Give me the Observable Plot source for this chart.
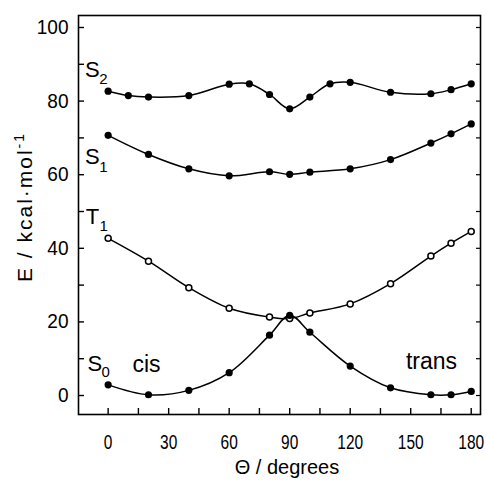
<!DOCTYPE html>
<html>
<head>
<meta charset="utf-8">
<script src="https://cdn.jsdelivr.net/npm/d3@7"></script>
<script src="https://cdn.jsdelivr.net/npm/@observablehq/plot@0.6"></script>
<style>
  html, body { margin: 0; padding: 0; background: #fff; }
  #chart svg { display: block; }
</style>
</head>
<body>
<div id="chart"></div>
<script>
// Torsion angle (degrees)
const angleS2 = [0, 10, 20, 40, 60, 70, 80, 90, 100, 110, 120, 140, 160, 170, 180];
const energyS2 = [82.7, 81.5, 81.1, 81.5, 84.6, 84.7, 81.8, 77.9, 81.1, 84.7, 85.1, 82.4, 82.0, 83.1, 84.7];

const angleS1 = [0, 20, 40, 60, 80, 90, 100, 120, 140, 160, 170, 180];
const energyS1 = [70.7, 65.5, 61.6, 59.7, 60.8, 60.1, 60.7, 61.6, 64.1, 68.6, 71.1, 73.8];

const angleT1 = [0, 20, 40, 60, 80, 90, 100, 120, 140, 160, 170, 180];
const energyT1 = [42.7, 36.5, 29.3, 23.7, 21.3, 20.9, 22.4, 24.9, 30.4, 37.9, 41.4, 44.6];

const angleS0 = [0, 20, 40, 60, 80, 90, 100, 120, 140, 160, 170, 180];
const energyS0 = [2.9, 0.2, 1.4, 6.2, 16.4, 21.8, 17.2, 8.0, 2.1, 0.2, 0.2, 1.1];

const xTickLabels = [0, 30, 60, 90, 120, 150, 180];
const xTickMarks = [0, 15, 30, 45, 60, 75, 90, 105, 120, 135, 150, 165, 180];
const yTickLabels = [0, 20, 40, 60, 80, 100];
const yTickMarks = [0, 10, 20, 30, 40, 50, 60, 70, 80, 90, 100];

// State labels (data coordinates)
const stateLetters = ["S", "S", "T", "S"];
const stateSubs = ["2", "1", "1", "0"];
const stateLetterX = [-7.8, -7.8, -7.8, -6.6];
const stateLetterY = [88.4, 64.7, 48.6, 8.6];
const stateSubX = [-2.4, -2.3, -2.2, -1.2];
const stateSubY = [85.9, 62.0, 45.9, 6.3];

const zoneNames = ["cis", "trans"];
const zoneX = [19.0, 160.3];
const zoneY = [8.3, 9.3];

const toRows = (xs, ys) => xs.map((x, i) => ({x, y: ys[i]}));
const s2 = toRows(angleS2, energyS2);
const s1 = toRows(angleS1, energyS1);
const t1 = toRows(angleT1, energyT1);
const s0 = toRows(angleS0, energyS0);
const letters = stateLetters.map((t, i) => ({t, x: stateLetterX[i], y: stateLetterY[i]}));
const subs = stateSubs.map((t, i) => ({t, x: stateSubX[i], y: stateSubY[i]}));

const W = 486, H = 480;
const mL = 78, mR = 6, mT = 15, mB = 66;
const plotW = W - mL - mR, plotH = H - mT - mB;
const regular = "'Liberation Sans', Arial, sans-serif";
const tickLen = 6;

const chart = Plot.plot({
  width: W,
  height: H,
  marginLeft: mL,
  marginRight: mR,
  marginTop: mT,
  marginBottom: mB,
  style: {fontFamily: regular, color: "#000", background: "#fff", overflow: "visible"},
  x: {domain: [-14.7, 184.6]},
  y: {domain: [-5.16, 103.26]},
  marks: [
    Plot.frame({stroke: "#000", strokeWidth: 1.6}),
    Plot.ruleX(xTickMarks, {x: d => d, insetTop: plotH - tickLen, stroke: "#000", strokeWidth: 1.4}),
    Plot.ruleY(yTickMarks, {y: d => d, insetRight: plotW - tickLen, stroke: "#000", strokeWidth: 1.4}),
    Plot.ruleY(yTickMarks, {y: d => d, insetLeft: plotW - 4, stroke: "#000", strokeWidth: 1.2}),
    Plot.axisX(xTickLabels, {tickSize: 0, tickPadding: 20, fontSize: 20, fontFamily: regular, label: null, fill: "#000"}),
    Plot.axisY(yTickLabels, {tickSize: 0, tickPadding: 10, fontSize: 20, fontFamily: regular, label: null, fill: "#000"}),
    Plot.line(s2, {x: "x", y: "y", curve: "catmull-rom", stroke: "#000", strokeWidth: 1.5}),
    Plot.line(s1, {x: "x", y: "y", curve: "catmull-rom", stroke: "#000", strokeWidth: 1.5}),
    Plot.line(t1, {x: "x", y: "y", curve: "catmull-rom", stroke: "#000", strokeWidth: 1.5}),
    Plot.line(s0, {x: "x", y: "y", curve: "catmull-rom", stroke: "#000", strokeWidth: 1.5}),
    Plot.dot(s2, {x: "x", y: "y", r: 3.6, fill: "#000", stroke: "none"}),
    Plot.dot(s1, {x: "x", y: "y", r: 3.6, fill: "#000", stroke: "none"}),
    Plot.dot(t1, {x: "x", y: "y", r: 3, fill: "#fff", stroke: "#000", strokeWidth: 1.5}),
    Plot.dot(s0, {x: "x", y: "y", r: 3.6, fill: "#000", stroke: "none"}),
    Plot.text(letters, {x: "x", y: "y", text: "t", fontSize: 22, fontFamily: regular, fill: "#000", ariaLabel: "letters"}),
    Plot.text(subs, {x: "x", y: "y", text: "t", fontSize: 15, fontFamily: regular, fill: "#000", ariaLabel: "subs"}),
    Plot.text([zoneNames[0]], {x: () => zoneX[0], y: () => zoneY[0], text: d => d, fontSize: 23, fontFamily: regular, fill: "#000", ariaLabel: "cis"}),
    Plot.text([zoneNames[1]], {x: () => zoneX[1], y: () => zoneY[1], text: d => d, fontSize: 23, fontFamily: regular, fill: "#000", ariaLabel: "trans"})
  ]
});

const svg = d3.select(chart);
// narrow, tall lettering like the original
const squeeze = (sel, perChar) => sel.each(function () {
  const n = this.textContent.length;
  d3.select(this).attr("textLength", n * perChar).attr("lengthAdjust", "spacingAndGlyphs");
});
squeeze(svg.selectAll("g[aria-label='x-axis tick label'] text"), 8.6);
squeeze(svg.selectAll("g[aria-label='y-axis tick label'] text"), 10.6);
squeeze(svg.selectAll("g[aria-label='letters'] text"), 10.5);
squeeze(svg.selectAll("g[aria-label='subs'] text"), 6.5);
squeeze(svg.selectAll("g[aria-label='cis'] text"), 7.4);
squeeze(svg.selectAll("g[aria-label='trans'] text"), 10.4);

svg.append("text")
  .attr("x", (mL + W - mR) / 2 + 8)
  .attr("y", 474)
  .attr("text-anchor", "middle")
  .attr("font-family", regular)
  .attr("font-size", 20)
  .attr("fill", "#000")
  .text("Θ / degrees");

const yTitle = svg.append("text")
  .attr("transform", "translate(32,207) rotate(-90)")
  .attr("text-anchor", "middle")
  .attr("font-family", regular)
  .attr("font-size", 21)
  .attr("letter-spacing", 2)
  .attr("fill", "#000");
yTitle.append("tspan").text("E / kcal·mol");
yTitle.append("tspan").attr("dy", -8).attr("font-size", 14).text("-1");

document.getElementById("chart").appendChild(chart);
</script>
</body>
</html>
